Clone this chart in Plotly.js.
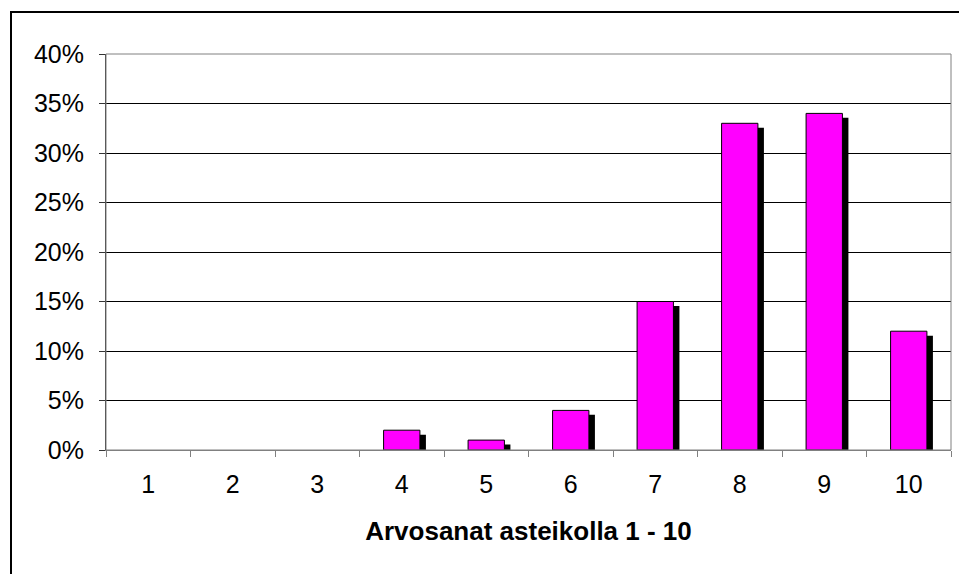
<!DOCTYPE html>
<html>
<head>
<meta charset="utf-8">
<script src="https://cdn.plot.ly/plotly-3.0.1.min.js"></script>
<style>
  html, body { margin: 0; padding: 0; background: #fff; }
  #chart { position: absolute; left: 0; top: 0; width: 959px; height: 574px; }
  #frame { position: absolute; left: 10px; top: 11px; width: 1000px; height: 1000px;
           border: 2px solid #000; pointer-events: none; }
</style>
</head>
<body>
<div id="chart"></div>
<div id="frame"></div>
<script>
const grades = ['1', '2', '3', '4', '5', '6', '7', '8', '9', '10'];
const shares = [0, 0, 0, 2, 1, 4, 15, 33, 34, 12];
const xTitle = 'Arvosanat asteikolla 1 - 10';

const barWidth = 0.43;
const font = 'Liberation Sans, Arial, sans-serif';

const shadow = {
  type: 'bar', x: grades, y: shares,
  base: -0.45,
  width: barWidth, offset: -barWidth / 2 + 0.071,
  marker: { color: '#000', line: { width: 0 } },
  hoverinfo: 'skip', showlegend: false
};
const bars = {
  type: 'bar', x: grades, y: shares,
  width: barWidth,
  marker: { color: '#ff00ff', line: { color: '#000', width: shares.map(v => (v > 0 ? 1 : 0)) } },
  showlegend: false
};

const layout = {
  width: 959, height: 574,
  margin: { l: 106, r: 8, t: 54, b: 124 },
  paper_bgcolor: 'rgba(0,0,0,0)', plot_bgcolor: '#fff',
  barmode: 'overlay',
  font: { family: font, size: 25, color: '#000' },
  xaxis: {
    type: 'category',
    tickson: 'boundaries',
    ticks: 'outside', ticklen: 6, tickcolor: '#808080', tickwidth: 1,
    showline: true, linecolor: '#808080', linewidth: 1,
    showgrid: false,
    ticklabelstandoff: 12,
    title: { text: xTitle, font: { family: font, size: 26, weight: 'bold' }, standoff: 24 }
  },
  yaxis: {
    range: [0, 40], dtick: 5, ticksuffix: '%',
    ticks: 'outside', ticklen: 6, tickcolor: '#333', tickwidth: 1,
    showline: true, linecolor: '#333', linewidth: 1,
    showgrid: true, gridcolor: '#000', gridwidth: 1,
    zeroline: false,
    ticklabelstandoff: 10
  },
  shapes: [{
    type: 'rect', xref: 'paper', yref: 'paper', x0: 0, x1: 1, y0: 0, y1: 1,
    line: { color: '#808080', width: 1 }, layer: 'above'
  }]
};

Plotly.newPlot('chart', [shadow, bars], layout, { displayModeBar: false, staticPlot: true });
</script>
</body>
</html>
